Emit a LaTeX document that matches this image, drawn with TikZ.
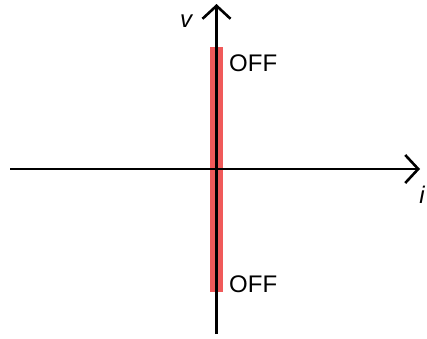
\documentclass[tikz,border=0pt]{standalone}
\usepackage{fontspec}
\setmainfont{Liberation Sans}
\usetikzlibrary{arrows.meta}
\definecolor{barred}{HTML}{F05A5A}
\begin{document}
\begin{tikzpicture}[x=1pt,y=-1pt,
  axis/.style={line width=2.6pt,-{Straight Barb[length=13pt,width=28pt,line width=2.6pt]}},
  bar/.style={line width=13pt,barred},
  lbl/.style={font=\fontsize{24}{24}\selectfont,inner sep=0pt},
  axlbl/.style={font=\fontsize{24}{24}\selectfont\itshape,inner sep=0pt}]
\useasboundingbox (0,0) rectangle (427,338);
\coordinate (xl) at (10,169);
\coordinate (xr) at (420,169);
\coordinate (yb) at (216.5,334);
\coordinate (yt) at (216.5,4);
\coordinate (bt) at (216.5,47);
\coordinate (bb) at (216.5,292);
\draw[bar] (bt) -- (bb);
\draw[axis] (xl) -- (xr);
\draw[axis] (yb) -- (yt);
\node[axlbl] (v) at (186,21) {v};
\node[axlbl] (i) at (422,195) {i};
\node[lbl,anchor=west] (off1) at (229,63) {OFF};
\node[lbl,anchor=west] (off2) at (229,284) {OFF};
\end{tikzpicture}
\end{document}
